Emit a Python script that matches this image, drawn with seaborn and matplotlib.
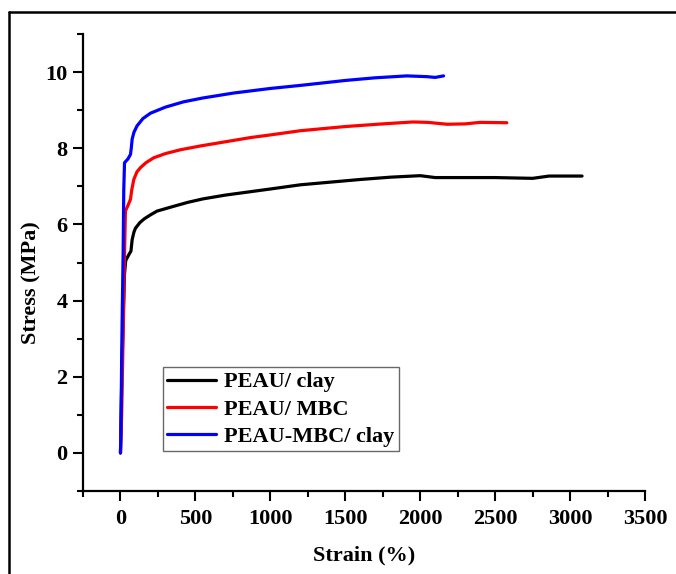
import numpy as np
import pandas as pd
import matplotlib
matplotlib.use("Agg")
import matplotlib.pyplot as plt
from matplotlib.lines import Line2D
import seaborn as sns

# ---- data ----
clay_x = [0, 5, 12, 20, 27, 35, 55, 70, 78, 90, 100, 130, 160, 200, 244, 350, 450,
          550, 700, 850, 1000, 1200, 1400, 1600, 1800, 2000, 2100, 2300, 2500, 2750,
          2860, 2950, 3080]
clay_y = [0, 1.2, 2.6, 3.8, 4.7, 5.05, 5.2, 5.3, 5.6, 5.8, 5.9, 6.05, 6.15, 6.25, 6.35,
          6.47, 6.58, 6.67, 6.77, 6.85, 6.93, 7.04, 7.11, 7.18, 7.24, 7.28, 7.23, 7.23,
          7.23, 7.21, 7.27, 7.27, 7.27]

mbc_x = [0, 8, 15, 22, 28, 33, 50, 67, 75, 89, 110, 133, 170, 222, 300, 400, 533,
         700, 867, 1000, 1200, 1500, 1750, 1950, 2050, 2180, 2300, 2400, 2578]
mbc_y = [0, 1.0, 2.5, 4.0, 5.4, 6.35, 6.5, 6.66, 6.9, 7.18, 7.38, 7.49, 7.62, 7.75,
         7.86, 7.96, 8.06, 8.17, 8.28, 8.35, 8.46, 8.57, 8.64, 8.69, 8.68, 8.63, 8.64,
         8.68, 8.67]

mbcclay_x = [0, 3, 8, 12, 18, 22, 27, 50, 67, 72, 78, 90, 111, 150, 200, 300, 422,
             550, 755, 1000, 1200, 1500, 1700, 1911, 2044, 2100, 2156]
mbcclay_y = [0, 0.5, 2.5, 3.7, 5.3, 6.9, 7.62, 7.72, 7.84, 8.0, 8.24, 8.42, 8.59, 8.78,
             8.92, 9.08, 9.22, 9.32, 9.45, 9.57, 9.65, 9.78, 9.85, 9.9, 9.88, 9.86, 9.9]

series_names = ["PEAU/ clay", "PEAU/ MBC", "PEAU-MBC/ clay"]
series_colors = ["#000000", "#ff0000", "#0000ff"]
x_ticks = [0, 500, 1000, 1500, 2000, 2500, 3000, 3500]
y_ticks = [0, 2, 4, 6, 8, 10]

frames = []
for name, xs, ys in zip(series_names,
                        [clay_x, mbc_x, mbcclay_x],
                        [clay_y, mbc_y, mbcclay_y]):
    frames.append(pd.DataFrame({"Strain": xs, "Stress": ys, "Sample": name}))
df = pd.concat(frames, ignore_index=True)

sns.set_style("ticks")
plt.rcParams["font.family"] = ["Liberation Serif", "DejaVu Serif"]
plt.rcParams["font.weight"] = "bold"
plt.rcParams["text.color"] = "black"
plt.rcParams["axes.labelcolor"] = "black"
plt.rcParams["xtick.color"] = "black"
plt.rcParams["ytick.color"] = "black"

FS = 16

fig = plt.figure(figsize=(6.76, 5.74), dpi=100)
ax = fig.add_axes([83 / 676, (574 - 491) / 574, 562 / 676, 457 / 574])

sns.lineplot(data=df, x="Strain", y="Stress", hue="Sample", hue_order=series_names,
             palette=dict(zip(series_names, series_colors)), sort=False,
             estimator=None, units="Sample", linewidth=2.3, ax=ax, legend=False)

ax.set_xlim(-250, 3500)
ax.set_ylim(-1, 11)
ax.set_xticks(x_ticks)
ax.set_yticks(y_ticks)
ax.set_xticks(list(np.arange(-250, 3501, 500)), minor=True)
ax.set_yticks([-1, 1, 3, 5, 7, 9, 11], minor=True)

for s in ["top", "right"]:
    ax.spines[s].set_visible(False)
for s in ["left", "bottom"]:
    ax.spines[s].set_linewidth(1.6)
    ax.spines[s].set_color("black")

ax.tick_params(axis="both", which="major", direction="out", length=7, width=1.5,
               colors="black", labelsize=FS, pad=4)
ax.tick_params(axis="x", which="major", pad=6)
ax.tick_params(axis="both", which="minor", direction="out", length=4, width=1.5,
               colors="black")
for lab in ax.get_xticklabels() + ax.get_yticklabels():
    lab.set_fontweight("bold")

ax.set_xlabel("Strain (%)", fontsize=FS, fontweight="bold", va="center", color="black")
ax.set_ylabel("Stress (MPa)", fontsize=FS, fontweight="bold", color="black")
ax.xaxis.set_label_coords(0.5, -0.142)
ax.yaxis.set_label_coords(-0.073, 0.457)

handles = [Line2D([0], [0], color=c, lw=2.3) for c in series_colors]
leg = ax.legend(handles, series_names, loc="lower left",
                bbox_to_anchor=(0.142, 0.087), borderaxespad=0,
                prop={"size": FS, "weight": "bold"}, frameon=True, fancybox=False,
                handlelength=2.2, handletextpad=0.35, labelspacing=0.3,
                borderpad=0.2)
leg.get_frame().set_edgecolor("#444444")
leg.get_frame().set_linewidth(1.0)
for t in leg.get_texts():
    t.set_color("black")

# outer figure frame (top and left edges visible)
fig.add_artist(Line2D([9 / 676, 9 / 676], [0, 1 - 11.5 / 574], color="black",
                      lw=1.8, transform=fig.transFigure))
fig.add_artist(Line2D([9 / 676, 1], [1 - 11.5 / 574, 1 - 11.5 / 574], color="black",
                      lw=1.8, transform=fig.transFigure))

fig.savefig("out.png", dpi=100)
